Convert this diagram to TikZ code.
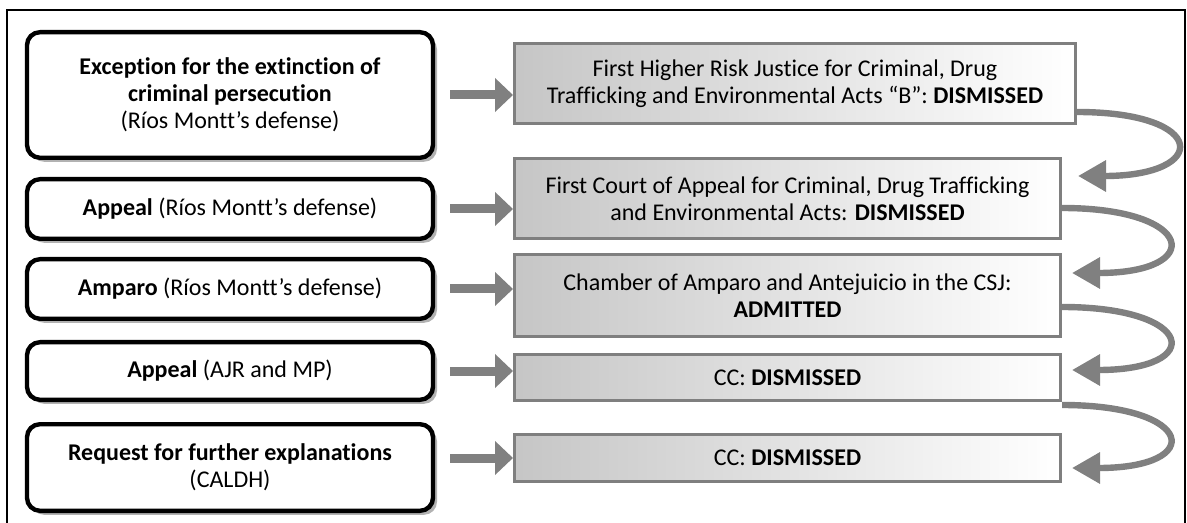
\documentclass[tikz,border=0pt]{standalone}
\usepackage{fontspec}
\setmainfont{Carlito}[Ligatures={NoCommon,NoContextual}]
\usetikzlibrary{arrows.meta, shadows}
\definecolor{arrowgray}{HTML}{808080}
\definecolor{edgegray}{HTML}{7F7F7F}

\begin{document}
\begin{tikzpicture}[x=0.5pt, y=-0.5pt,
    every node/.style={font=\fontsize{12}{13.4}\selectfont, align=center, inner sep=0pt},
    leftbox/.style={draw=black, line width=2.2pt, rounded corners=6.5pt, fill=white, minimum width=203pt,
        drop shadow={shadow xshift=2pt, shadow yshift=-2pt, fill=gray!60, opacity=1}},
    rightbox/.style={draw=edgegray, line width=1.5pt, left color=gray!45, right color=white, minimum width=273pt},
    flowarrow/.style={arrowgray, line width=4.5pt, -{Triangle[width=16.5pt, length=9pt]}},
    turnarrow/.style={arrowgray, line width=3.2pt, -{Triangle[width=15pt, length=14pt]}}]
    \useasboundingbox (0,0) rectangle (1187,523);
    \draw[line width=1pt] (7,523) |- (1185,10) -- (1185,523);

    % Requests
    \node[leftbox, minimum height=62.8pt] (exc) at (230,95)
        {\textbf{Exception for the extinction of}\\\textbf{criminal persecution}\\(Ríos Montt’s defense)};
    \node[leftbox, minimum height=29.8pt] (app1) at (230,209) {\textbf{Appeal} (Ríos Montt’s defense)};
    \node[leftbox, minimum height=29.8pt] (amp) at (230,289) {\textbf{Amparo} (Ríos Montt’s defense)};
    \node[leftbox, minimum height=28.8pt] (app2) at (230,371) {\textbf{Appeal} (AJR and MP)};
    \node[leftbox, minimum height=43.3pt] (req) at (230,467.5)
        {\textbf{Request for further explanations}\\(CALDH)};

    % Decisions
    \node[rightbox, minimum width=280.5pt, minimum height=40pt] (risk) at (795,83.5)
        {First Higher Risk Justice for Criminal, Drug\\Trafficking and Environmental Acts “B”: \textbf{DISMISSED}};
    \node[rightbox, minimum height=40pt] (court) at (787.5,198.5)
        {First Court of Appeal for Criminal, Drug Trafficking\\and Environmental Acts: \textbf{DISMISSED}};
    \node[rightbox, minimum height=41pt] (chamber) at (787.5,295.5)
        {Chamber of Amparo and Antejuicio in the CSJ:\\\textbf{ADMITTED}};
    \node[rightbox, minimum height=23pt] (cc1) at (787.5,377.5) {CC: \textbf{DISMISSED}};
    \node[rightbox, minimum height=23.5pt] (cc2) at (787.5,458) {CC: \textbf{DISMISSED}};

    % Straight arrows
    \draw[flowarrow] ([xshift=7.5pt]exc.east) -- (exc.east -| risk.west);
    \draw[flowarrow] ([xshift=7.5pt]app1.east) -- (app1.east -| court.west);
    \draw[flowarrow] ([xshift=7.5pt]amp.east) -- (amp.east -| chamber.west);
    \draw[flowarrow] ([xshift=7.5pt]app2.east) -- (app2.east -| cc1.west);
    \draw[flowarrow] ([xshift=7.5pt]req.east |- cc2.west) -- (cc2.west);

    % Turning arrows
    \draw[turnarrow] ([yshift=6.5pt]risk.south east) .. controls +(66pt,0) and +(66pt,0) .. ([xshift=8pt, yshift=-9.5pt]court.north east);
    \draw[turnarrow] ([yshift=16pt]court.south east) .. controls +(67pt,0) and +(67pt,0) .. ([xshift=5pt, yshift=-10pt]chamber.north east);
    \draw[turnarrow] ([yshift=15.5pt]chamber.south east) .. controls +(67pt,0) and +(67pt,0) .. ([xshift=5pt, yshift=-8.5pt]cc1.north east);
    \draw[turnarrow] ([yshift=-1.5pt]cc1.south east) .. controls +(67pt,0) and +(67pt,0) .. ([xshift=5pt, yshift=-17.5pt]cc2.north east);
\end{tikzpicture}
\end{document}
